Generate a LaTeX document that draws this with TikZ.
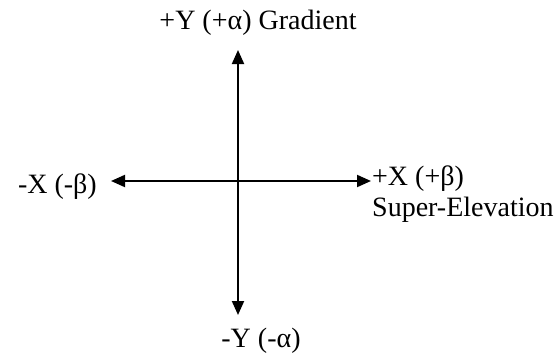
\documentclass[tikz,border=0pt]{standalone}
\usepackage{fontspec}
\setmainfont{Liberation Serif}
\usetikzlibrary{arrows.meta}
\begin{document}
\begin{tikzpicture}[x=1pt,y=-1pt,
  axis/.style={line width=2pt,-{Triangle[length=14pt,width=12pt]}},
  lbl/.style={font=\fontsize{28}{32}\selectfont,inner sep=0pt}]
\useasboundingbox (0,0) rectangle (557,354);
\coordinate (c) at (238,181);
\coordinate (top) at (238,50);
\coordinate (bot) at (238,315);
\coordinate (lft) at (111,181);
\coordinate (rgt) at (371,181);
\draw[axis] (c) -- (top);
\draw[axis] (c) -- (bot);
\draw[axis] (c) -- (lft);
\draw[axis] (c) -- (rgt);
\node[lbl,anchor=base] (ty) at (258,29) {+Y (+α) Gradient};
\node[lbl,anchor=base east] (tx) at (97,193) {-X (-β)};
\node[lbl,anchor=base west] (px) at (372,185) {+X (+β)};
\node[lbl,anchor=base west] (se) at (372,216) {Super-Elevation};
\node[lbl,anchor=base] (by) at (261,347) {-Y (-α)};
\end{tikzpicture}
\end{document}
